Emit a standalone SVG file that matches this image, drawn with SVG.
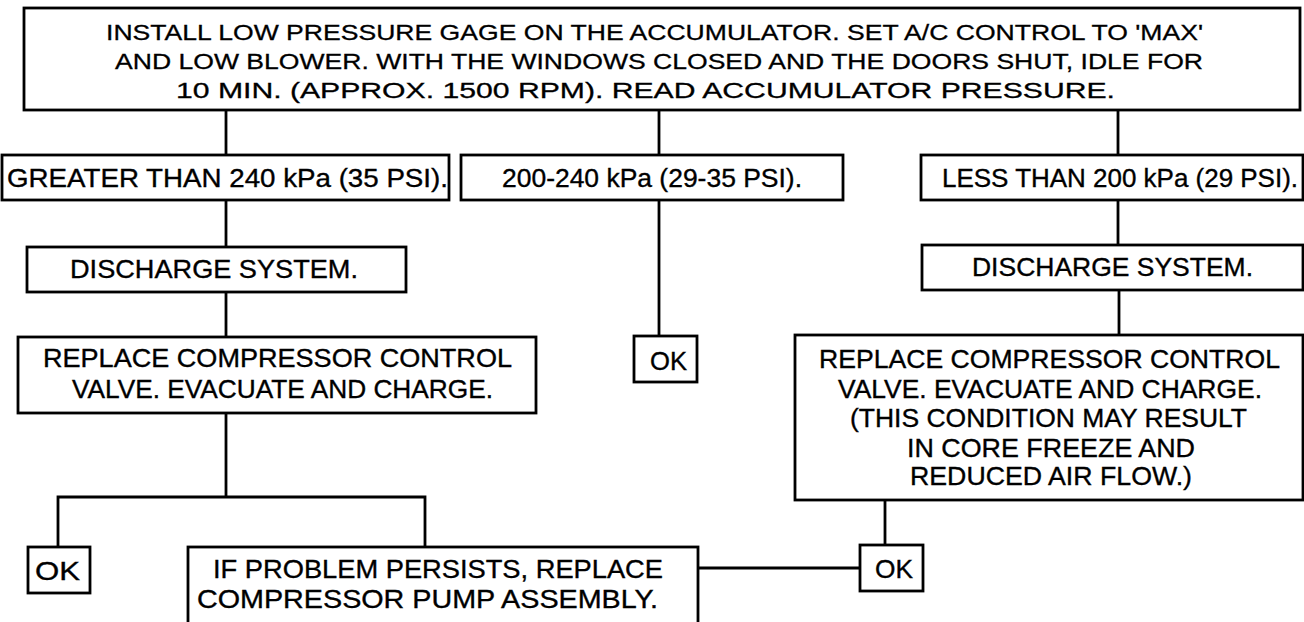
<svg xmlns="http://www.w3.org/2000/svg" width="1304" height="622" viewBox="0 0 1304 622">
<style>
  .box { fill: #ffffff; stroke: #000000; stroke-width: 2.8; }
  .ln { fill: none; stroke: #000000; stroke-width: 2.8; }
  .t { font-family: "Liberation Sans", Arial, Helvetica, sans-serif; font-size: 25px; fill: #000000; stroke: #000000; stroke-width: 0.35; }
  .tt { font-family: "Liberation Sans", Arial, Helvetica, sans-serif; font-size: 22px; fill: #000000; stroke: #000000; stroke-width: 0.3; }
</style>
<rect width="1304" height="622" fill="#ffffff"/>
<g id="connectors">
  <path class="ln" d="M226 110 V155"/>
  <path class="ln" d="M659 110 V155"/>
  <path class="ln" d="M1118 110 V155"/>
  <path class="ln" d="M226 200 V247"/>
  <path class="ln" d="M226 292 V337"/>
  <path class="ln" d="M659 200 V336"/>
  <path class="ln" d="M1118 200 V245"/>
  <path class="ln" d="M1119 290 V335"/>
  <path class="ln" d="M226 413 V497"/>
  <path class="ln" d="M58 547 V497 H425 V547"/>
  <path class="ln" d="M885 500 V545"/>
  <path class="ln" d="M698 568 H860"/>
</g>
<g id="n_start">
  <rect class="box" x="24" y="8" width="1276" height="102"/>
  <text class="tt" x="106" y="40" textLength="1097" lengthAdjust="spacingAndGlyphs">INSTALL LOW PRESSURE GAGE ON THE ACCUMULATOR. SET A/C CONTROL TO 'MAX'</text>
  <text class="tt" x="115" y="69" textLength="1088" lengthAdjust="spacingAndGlyphs">AND LOW BLOWER. WITH THE WINDOWS CLOSED AND THE DOORS SHUT, IDLE FOR</text>
  <text class="tt" x="176" y="98" textLength="939" lengthAdjust="spacingAndGlyphs">10 MIN. (APPROX. 1500 RPM). READ ACCUMULATOR PRESSURE.</text>
</g>
<g id="n_greater">
  <rect class="box" x="2" y="155" width="447" height="45"/>
  <text class="t" x="7" y="187" textLength="441" lengthAdjust="spacingAndGlyphs">GREATER THAN 240 kPa (35 PSI).</text>
</g>
<g id="n_normal">
  <rect class="box" x="461" y="155" width="382" height="45"/>
  <text class="t" x="502" y="187" textLength="300" lengthAdjust="spacingAndGlyphs">200-240 kPa (29-35 PSI).</text>
</g>
<g id="n_less">
  <rect class="box" x="921" y="155" width="382" height="45"/>
  <text class="t" x="942" y="187" textLength="356" lengthAdjust="spacingAndGlyphs">LESS THAN 200 kPa (29 PSI).</text>
</g>
<g id="n_discharge_left">
  <rect class="box" x="27" y="247" width="379" height="45"/>
  <text class="t" x="70" y="278" textLength="288" lengthAdjust="spacingAndGlyphs">DISCHARGE SYSTEM.</text>
</g>
<g id="n_discharge_right">
  <rect class="box" x="922" y="245" width="381" height="45"/>
  <text class="t" x="972" y="276" textLength="281" lengthAdjust="spacingAndGlyphs">DISCHARGE SYSTEM.</text>
</g>
<g id="n_replace_left">
  <rect class="box" x="18" y="337" width="518" height="76"/>
  <text class="t" x="43" y="367" textLength="469" lengthAdjust="spacingAndGlyphs">REPLACE COMPRESSOR CONTROL</text>
  <text class="t" x="72" y="398" textLength="421" lengthAdjust="spacingAndGlyphs">VALVE. EVACUATE AND CHARGE.</text>
</g>
<g id="n_ok_mid">
  <rect class="box" x="634" y="336" width="63" height="46"/>
  <text class="t" x="650" y="370" textLength="37" lengthAdjust="spacingAndGlyphs">OK</text>
</g>
<g id="n_replace_right">
  <rect class="box" x="795" y="335" width="508" height="165"/>
  <text class="t" x="819" y="368" textLength="461" lengthAdjust="spacingAndGlyphs">REPLACE COMPRESSOR CONTROL</text>
  <text class="t" x="838" y="398" textLength="424" lengthAdjust="spacingAndGlyphs">VALVE. EVACUATE AND CHARGE.</text>
  <text class="t" x="850" y="427" textLength="397" lengthAdjust="spacingAndGlyphs">(THIS CONDITION MAY RESULT</text>
  <text class="t" x="907" y="457" textLength="288" lengthAdjust="spacingAndGlyphs">IN CORE FREEZE AND</text>
  <text class="t" x="910" y="485" textLength="282" lengthAdjust="spacingAndGlyphs">REDUCED AIR FLOW.)</text>
</g>
<g id="n_ok_left">
  <rect class="box" x="28" y="547" width="62" height="46"/>
  <text class="t" x="35" y="580" textLength="45" lengthAdjust="spacingAndGlyphs">OK</text>
</g>
<g id="n_pump">
  <rect class="box" x="188" y="547" width="510" height="90"/>
  <text class="t" x="213" y="578" textLength="450" lengthAdjust="spacingAndGlyphs">IF PROBLEM PERSISTS, REPLACE</text>
  <text class="t" x="197" y="608" textLength="461" lengthAdjust="spacingAndGlyphs">COMPRESSOR PUMP ASSEMBLY.</text>
</g>
<g id="n_ok_right">
  <rect class="box" x="860" y="545" width="63" height="46"/>
  <text class="t" x="875" y="578" textLength="38" lengthAdjust="spacingAndGlyphs">OK</text>
</g>
</svg>
